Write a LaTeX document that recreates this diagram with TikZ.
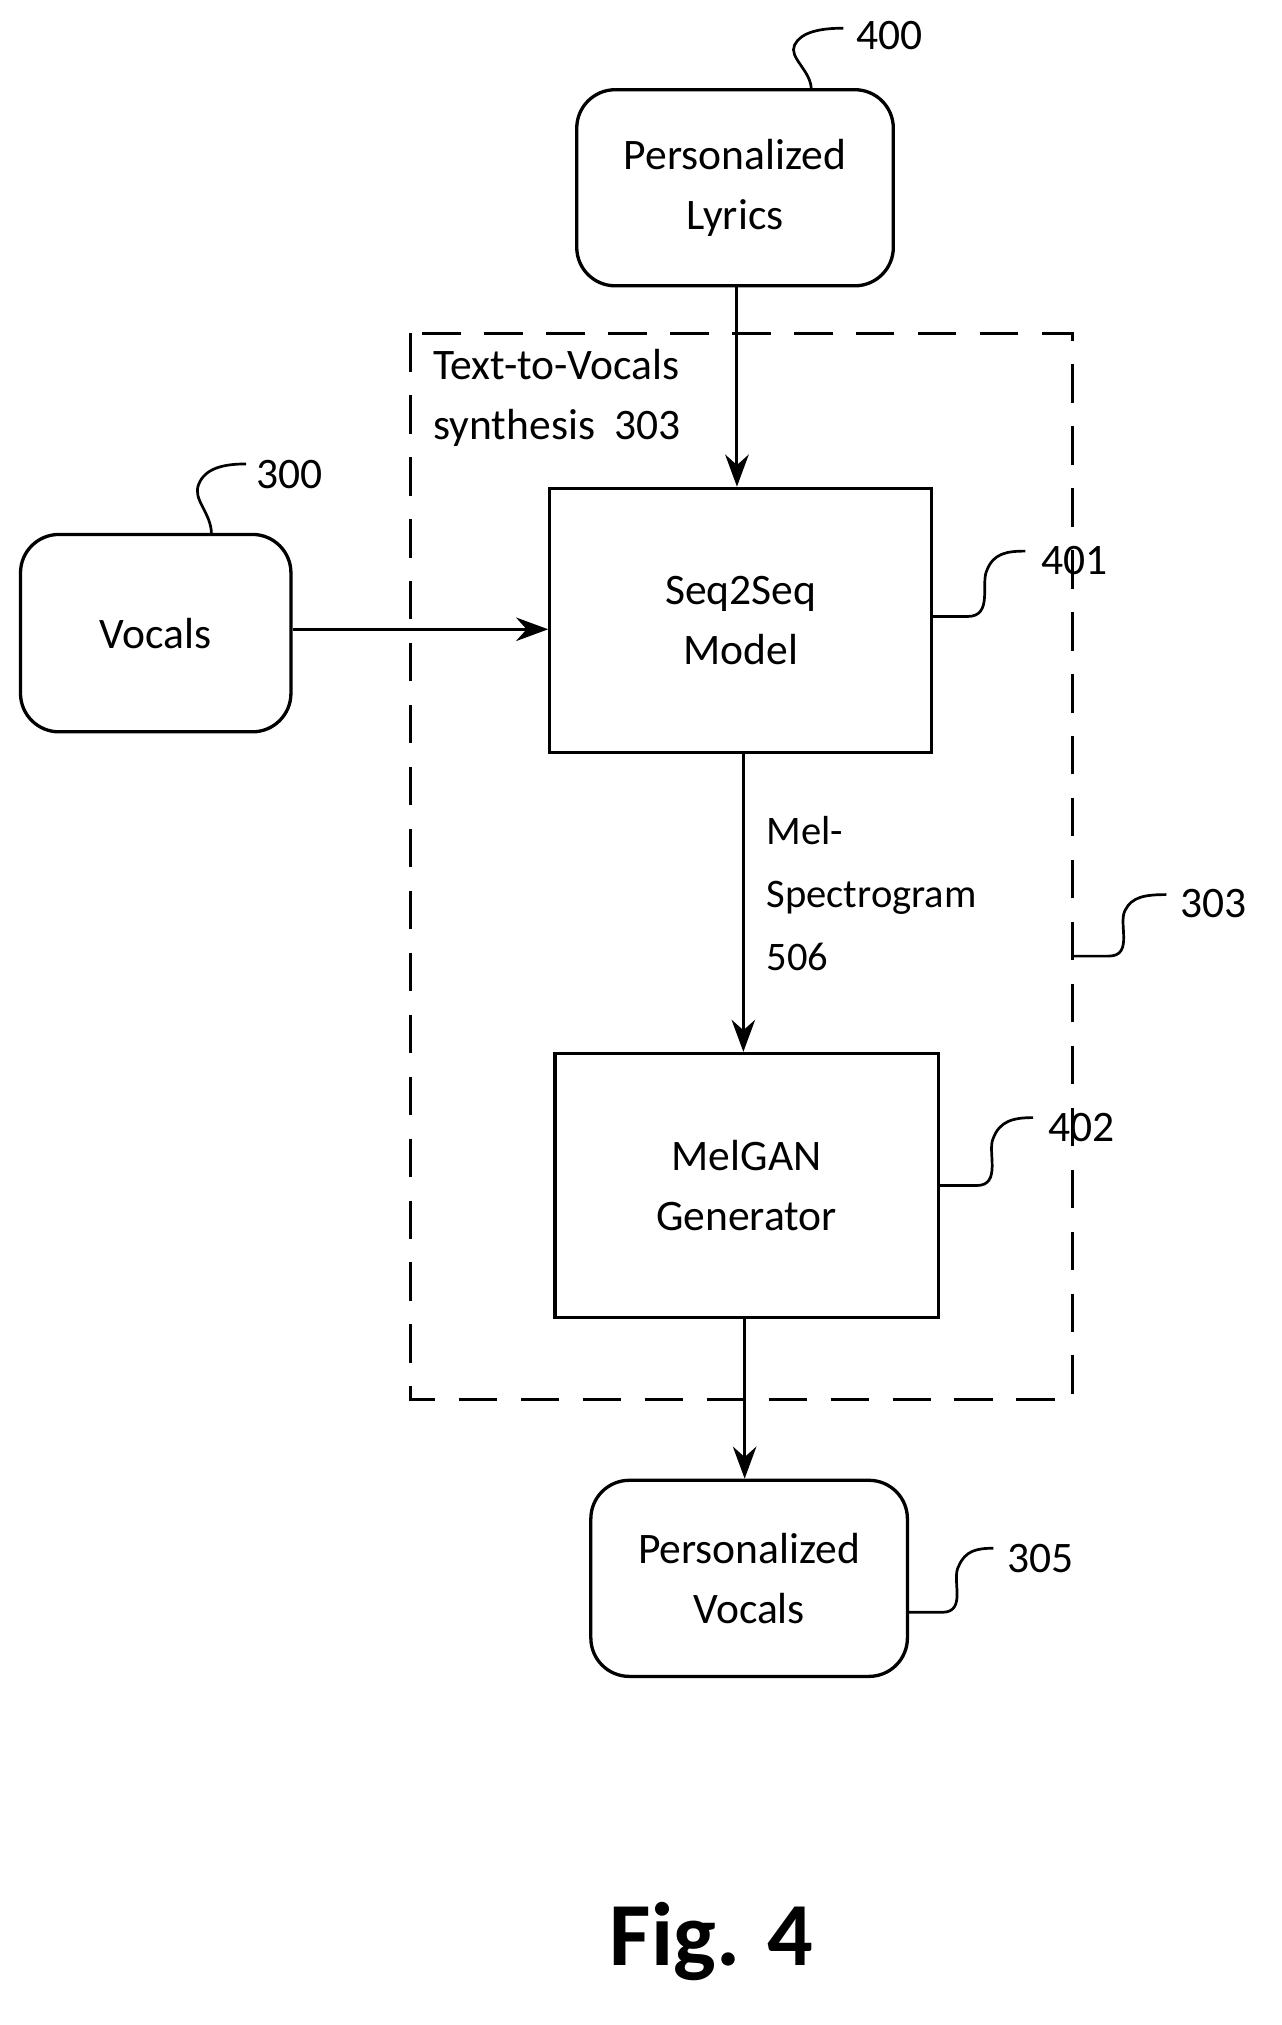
\documentclass[tikz,border=0pt]{standalone}
\usepackage{fontspec}
\setmainfont{Carlito}
\usetikzlibrary{arrows.meta}
\begin{document}
\begin{tikzpicture}[x=0.03cm,y=-0.03cm,
  box/.style={draw,line width=2.2pt,align=center,font=\fontsize{29}{40}\selectfont,inner sep=0pt},
  rbox/.style={box,rounded corners=0.9cm},
  lab/.style={font=\fontsize{29}{40}\selectfont,anchor=west,inner sep=0pt},
  arr/.style={line width=2pt,-{Stealth[length=0.75cm,width=0.55cm]}},
  lead/.style={line width=1.8pt}]
\useasboundingbox (0,0) rectangle (1000,1580);
\draw[line width=2pt,dash pattern=on 0.9cm off 0.55cm] (320,260) rectangle (837,1092);
\node[rbox,minimum width=7.41cm,minimum height=4.59cm] (lyr) at (573.5,146.5) {Personalized\\Lyrics};
\node[box,minimum width=8.94cm,minimum height=6.18cm] (seq) at (578,484) {Seq2Seq\\Model};
\node[rbox,minimum width=6.33cm,minimum height=4.62cm] (voc) at (121.5,494) {Vocals};
\node[box,minimum width=8.97cm,minimum height=6.18cm] (mel) at (582.5,925) {MelGAN\\Generator};
\node[rbox,minimum width=7.41cm,minimum height=4.59cm] (pv) at (584.5,1231.5) {Personalized\\Vocals};
\draw[arr] (575,223) -- (seq.north -| 575,0);
\draw[arr] (voc.east |- 0,491) -- (seq.west |- 0,491);
\draw[arr] (seq.south -| 580,0) -- (mel.north -| 580,0);
\draw[arr] (mel.south -| 581,0) -- (pv.north -| 581,0);
\node[lab,anchor=north west,align=left] (t303) at (338,272) {Text-to-Vocals\\synthesis~~303};
\node[lab,anchor=north west,align=left,font=\fontsize{27}{42}\selectfont] (m506) at (598,637) {Mel-\\Spectrogram\\506};
\node[lab] (n400) at (668,28) {400};
\node[lab] (n300) at (200,370) {300};
\node[lab] (n401) at (812,437) {401};
\node[lab] (n303) at (921,705) {303};
\node[lab] (n402) at (818,880) {402};
\node[lab] (n305) at (786,1216) {305};
\draw[lead] (633,70) .. controls (633,55) and (615,45) .. (620,35) .. controls (625,25) and (640,22) .. (658,22);
\draw[lead] (165,417) .. controls (165,400) and (150,390) .. (155,378) .. controls (160,365) and (175,362) .. (192,362);
\draw[lead] (727,481) -- (755,481) .. controls (775,481) and (765,455) .. (770,445) .. controls (775,432) and (785,430) .. (800,430);
\draw[lead] (837,746) -- (865,746) .. controls (885,746) and (872,720) .. (878,710) .. controls (883,700) and (893,698) .. (910,698);
\draw[lead] (732,925) -- (762,925) .. controls (782,925) and (770,898) .. (775,888) .. controls (780,875) and (790,872) .. (806,872);
\draw[lead] (708,1258) -- (735,1258) .. controls (755,1258) and (742,1232) .. (748,1222) .. controls (753,1210) and (762,1208) .. (775,1208);
\node[font=\bfseries\fontsize{60}{70}\selectfont] (fig) at (555,1515) {Fig. 4};
\end{tikzpicture}
\end{document}
